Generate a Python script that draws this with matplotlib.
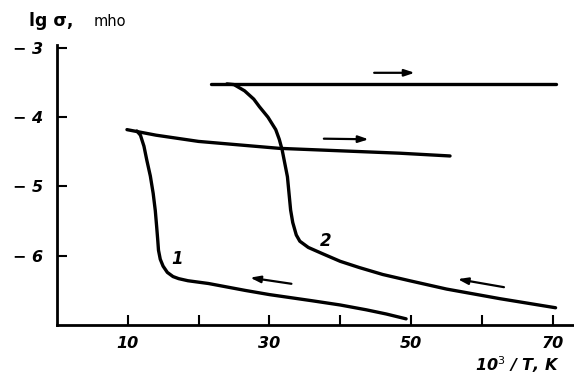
import matplotlib
matplotlib.use('Agg')
import matplotlib.pyplot as plt

# curve 1: heating branch (lower -> jump) and cooling branch (upper line)
c1_heat_x = [49.3, 46.5, 43.7, 40.0, 36.1, 30.0, 26.6, 21.4, 18.5, 17.2, 16.4, 15.6, 15.0, 14.6, 14.35,
             14.25, 14.1, 13.9, 13.6, 13.2, 12.7, 12.3, 11.8, 11.3]
c1_heat_y = [-6.91, -6.84, -6.78, -6.71, -6.65, -6.56, -6.50, -6.40, -6.36, -6.33, -6.30, -6.24, -6.15, -6.05, -5.92,
             -5.78, -5.59, -5.35, -5.10, -4.85, -4.62, -4.42, -4.26, -4.20]
c1_cool_x = [9.9, 14.0, 20.0, 31.4, 48.4, 55.5]
c1_cool_y = [-4.18, -4.26, -4.35, -4.45, -4.52, -4.56]

# curve 2
c2_heat_x = [70.4, 62.6, 55.0, 49.8, 46.0, 42.7, 40.0, 37.5, 35.5, 34.3, 33.8, 33.3, 33.0, 32.55,
             31.8, 31.4, 30.9, 29.8, 28.6, 27.8, 26.5, 25.0, 24.0]
c2_heat_y = [-6.75, -6.62, -6.48, -6.36, -6.27, -6.17, -6.08, -5.97, -5.88, -5.79, -5.70, -5.52, -5.34, -4.86,
             -4.47, -4.32, -4.18, -4.00, -3.85, -3.74, -3.62, -3.53, -3.52]
c2_cool_x = [21.7, 70.4]
c2_cool_y = [-3.52, -3.52]

# arrows: (tail x, tail y, head x, head y)
arrows = [(44.4, -3.36, 50.9, -3.36),
          (37.3, -4.31, 44.4, -4.32),
          (33.5, -6.41, 26.9, -6.31),
          (63.5, -6.46, 56.2, -6.33)]

xticks = [10, 20, 30, 40, 50, 60, 70]
xticklabels = ['10', '', '30', '', '50', '', '70']
yticks = [-3, -4, -5, -6]
yticklabels = ['\u2212 3', '\u2212 4', '\u2212 5', '\u2212 6']

fig = plt.figure(figsize=(5.74, 3.82), dpi=100)
ax = fig.add_axes([0.099, 0.149, 0.901, 0.733])

lw = 2.4
for xs, ys in [(c1_heat_x, c1_heat_y), (c1_cool_x, c1_cool_y),
               (c2_heat_x, c2_heat_y), (c2_cool_x, c2_cool_y)]:
    ax.plot(xs, ys, color='black', lw=lw, solid_joinstyle='round', solid_capstyle='round')

for x0, y0, x1, y1 in arrows:
    ax.annotate('', xy=(x1, y1), xytext=(x0, y0),
                arrowprops=dict(arrowstyle='-|>,head_length=0.6,head_width=0.2',
                                color='black', lw=1.6))

tkw = dict(fontweight='bold', fontstyle='italic', fontsize=12)
ax.text(17.0, -6.04, '1', ha='center', va='center', **tkw)
ax.text(38.0, -5.78, '2', ha='center', va='center', **tkw)

ax.set_xlim(0, 73)
ax.set_ylim(-7.0, -2.96)
ax.set_xticks(xticks)
ax.set_xticklabels(xticklabels, fontweight='bold', fontstyle='italic', fontsize=11.5)
ax.set_yticks(yticks)
ax.set_yticklabels(yticklabels, fontweight='bold', fontstyle='italic', fontsize=11.5)
ax.tick_params(direction='in', length=7, width=1.5, pad=8)
ax.tick_params(axis='y', pad=10)

for s in ['top', 'right']:
    ax.spines[s].set_visible(False)
for s in ['left', 'bottom']:
    ax.spines[s].set_linewidth(2)

fig.text(0.05, 0.945, 'lg \u03c3,', fontweight='bold', fontsize=12.5, va='center')
fig.text(0.163, 0.945, 'mho', fontsize=10.5, va='center')
fig.text(0.975, 0.045, '10$^3$ / T, K', fontweight='bold', fontstyle='italic',
         fontsize=11.5, ha='right', va='center')

fig.savefig('out.png', dpi=100)
